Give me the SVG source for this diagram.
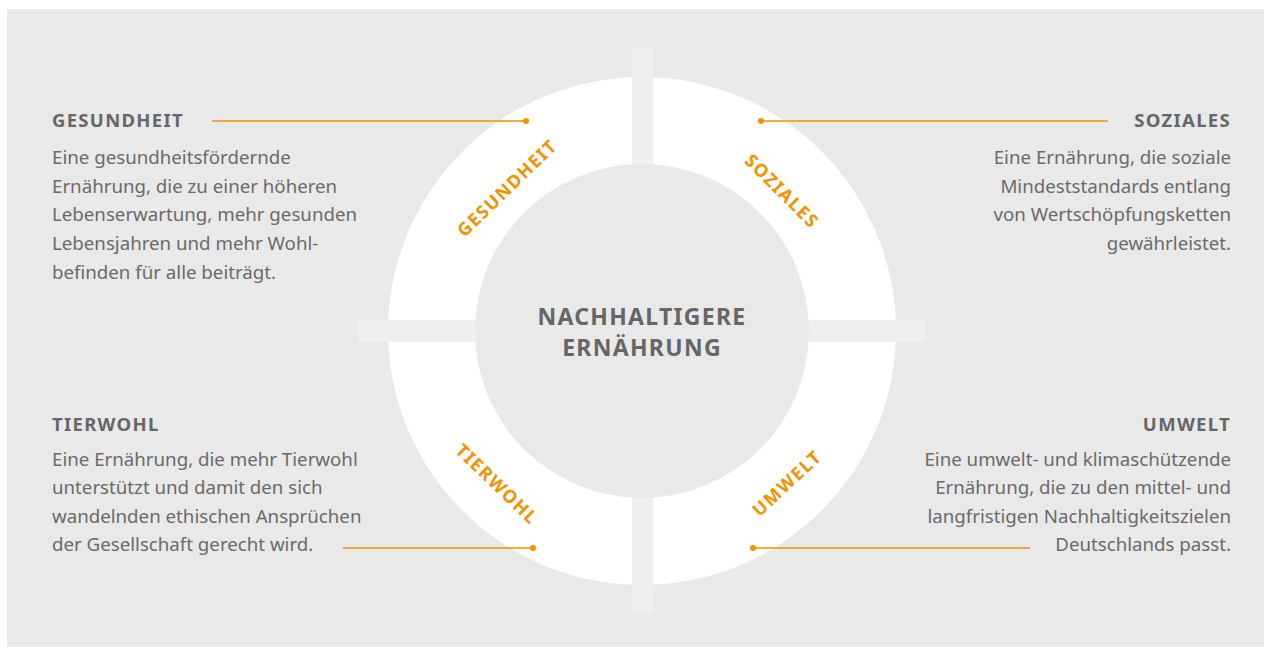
<svg xmlns="http://www.w3.org/2000/svg" width="1264" height="649" viewBox="0 0 1264 649">
<style>
.bg{fill:#e9e9e9}
.bar{fill:#efefef}
.h{font-family:"Noto Sans","Open Sans",sans-serif;font-weight:700;font-size:18.5px;fill:#666;letter-spacing:1.3px}
.b{font-family:"Noto Sans","Open Sans",sans-serif;font-size:18.7px;fill:#6a6a6a}
.c{font-family:"Noto Sans","Open Sans",sans-serif;font-weight:700;font-size:23px;fill:#666;letter-spacing:1.3px}
.r{font-family:"Noto Sans","Open Sans",sans-serif;font-weight:700;font-size:18px;fill:#f39200;letter-spacing:1.5px}
.ln{stroke:#f39200;stroke-width:1.3;fill:none}
.dot{fill:#f39200}
.end{text-anchor:end}
.mid{text-anchor:middle}
</style>
<rect x="7" y="9" width="1257" height="638" class="bg"/>
<g id="ring">
<circle cx="642" cy="331" r="254" fill="#fff"/>
<rect x="632" y="48" width="21" height="565" class="bar"/>
<rect x="358" y="320" width="567" height="22" class="bar"/>
<circle cx="642" cy="331" r="167" class="bg"/>
</g>
<g id="center">
<text class="c mid" x="642" y="325">NACHHALTIGERE</text>
<text class="c mid" x="642" y="356">ERNÄHRUNG</text>
</g>
<g id="ring-labels">
<text class="r mid" transform="translate(507,188) rotate(-44)" y="6.5">GESUNDHEIT</text>
<text class="r mid" transform="translate(782,191) rotate(45)" y="6.5">SOZIALES</text>
<text class="r mid" transform="translate(497,484) rotate(44)" y="6.5">TIERWOHL</text>
<text class="r mid" transform="translate(787,483) rotate(-43)" y="6.5">UMWELT</text>
</g>
<g id="connectors">
<line class="ln" x1="212" y1="121" x2="526" y2="121"/>
<circle class="dot" cx="526" cy="121" r="3"/>
<line class="ln" x1="761" y1="121" x2="1108" y2="121"/>
<circle class="dot" cx="761" cy="121" r="3"/>
<line class="ln" x1="343" y1="548" x2="533" y2="548"/>
<circle class="dot" cx="533" cy="548" r="3"/>
<line class="ln" x1="753" y1="548" x2="1030" y2="548"/>
<circle class="dot" cx="753" cy="548" r="3"/>
</g>
<g id="gesundheit">
<text class="h" x="52" y="127">GESUNDHEIT</text>
<text class="b" x="52" y="164">Eine gesundheitsfördernde</text>
<text class="b" x="52" y="193">Ernährung, die zu einer höheren</text>
<text class="b" x="52" y="221">Lebenserwartung, mehr gesunden</text>
<text class="b" x="52" y="250">Lebensjahren und mehr Wohl-</text>
<text class="b" x="52" y="279">befinden für alle beiträgt.</text>
</g>
<g id="soziales">
<text class="h end" x="1231" y="127">SOZIALES</text>
<text class="b end" x="1231" y="164">Eine Ernährung, die soziale</text>
<text class="b end" x="1231" y="193">Mindeststandards entlang</text>
<text class="b end" x="1231" y="221">von Wertschöpfungsketten</text>
<text class="b end" x="1231" y="250">gewährleistet.</text>
</g>
<g id="tierwohl">
<text class="h" x="52" y="431">TIERWOHL</text>
<text class="b" x="52" y="466">Eine Ernährung, die mehr Tierwohl</text>
<text class="b" x="52" y="494">unterstützt und damit den sich</text>
<text class="b" x="52" y="523">wandelnden ethischen Ansprüchen</text>
<text class="b" x="52" y="551">der Gesellschaft gerecht wird.</text>
</g>
<g id="umwelt">
<text class="h end" x="1231" y="431">UMWELT</text>
<text class="b end" x="1231" y="466">Eine umwelt- und klimaschützende</text>
<text class="b end" x="1231" y="494">Ernährung, die zu den mittel- und</text>
<text class="b end" x="1231" y="523">langfristigen Nachhaltigkeitszielen</text>
<text class="b end" x="1231" y="551">Deutschlands passt.</text>
</g>
</svg>
